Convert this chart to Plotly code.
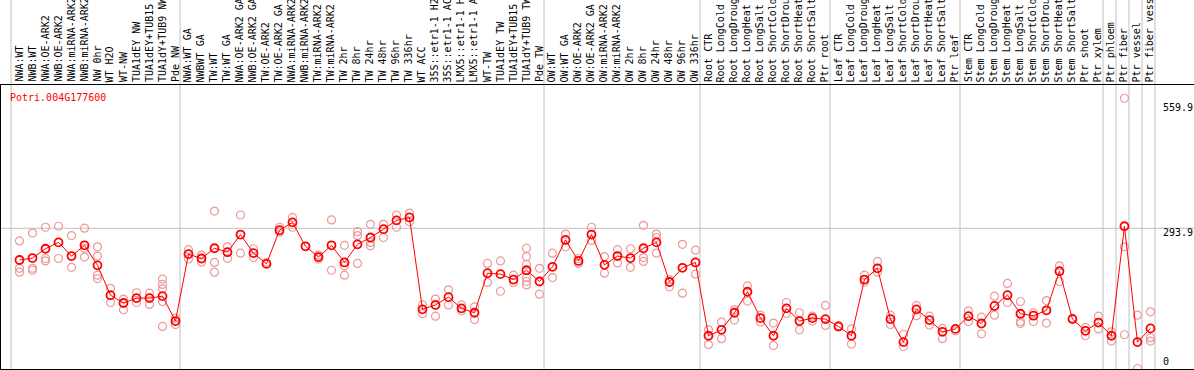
import plotly.graph_objects as go

gene = "Potri.004G177600"

categories = [
    "NWA:WT", "NWB:WT", "NWA:OE-ARK2", "NWB:OE-ARK2", "NWA:miRNA-ARK2", "NWB:miRNA-ARK2",
    "NW 0hr", "WT H2O", "WT-NW", "TUA1dEY NW", "TUA1dEY+TUB15 NW", "TUA1dY+TUB9 NW", "Pde NW",
    "NWA:WT GA", "NWBWT GA", "TW:WT", "TW:WT GA", "NWA:OE-ARK2 GA", "NWB:OE-ARK2 GA",
    "TW:OE-ARK2", "TW:OE-ARK2 GA", "NWA:miRNA-ARK2", "NWB:miRNA-ARK2", "TW:miRNA-ARK2",
    "TW:miRNA-ARK2", "TW 2hr", "TW 8hr", "TW 24hr", "TW 48hr", "TW 96hr", "TW 336hr",
    "WT ACC", "35S::etr1-1 H2O", "35S::etr1-1 ACC", "LMX5::etr1-1 H2O", "LMX5::etr1-1 ACC",
    "WT-TW", "TUA1dEY TW", "TUA1dEY+TUB15 TW", "TUA1dY+TUB9 TW", "Pde TW",
    "OW:WT", "OW:WT GA", "OW:OE-ARK2", "OW:OE-ARK2 GA", "OW:miRNA-ARK2", "OW:miRNA-ARK2",
    "OW 2hr", "OW 8hr", "OW 24hr", "OW 48hr", "OW 96hr", "OW 336hr",
    "Root CTR", "Root LongCold", "Root LongDrought", "Root LongHeat", "Root LongSalt",
    "Root ShortCold", "Root ShortDrought", "Root ShortHeat", "Root ShortSalt", "Ptr root",
    "Leaf CTR", "Leaf LongCold", "Leaf LongDrought", "Leaf LongHeat", "Leaf LongSalt",
    "Leaf ShortCold", "Leaf ShortDrought", "Leaf ShortHeat", "Leaf ShortSalt", "Ptr leaf",
    "Stem CTR", "Stem LongCold", "Stem LongDrought", "Stem LongHeat", "Stem LongSalt",
    "Stem ShortCold", "Stem ShortDrought", "Stem ShortHeat", "Stem ShortSalt", "Ptr shoot",
    "Ptr xylem", "Ptr phloem", "Ptr fiber", "Ptr vessel", "Ptr fiber vessel",
]

group_sizes = [13, 28, 12, 10, 10, 11, 1, 1, 1, 1]

means = [
    229, 233, 252, 265, 237, 259, 218, 157, 141, 151, 151, 155, 104,
    241, 232, 253, 245, 281, 243, 221, 290, 306, 257, 235, 259, 224, 261, 275, 292, 310, 316,
    128, 137, 153, 130, 121, 202, 200, 189, 208, 185,
    215, 270, 227, 281, 219, 237, 233, 253, 265, 184, 213, 224,
    74, 86, 121, 164, 110, 74, 130, 104, 110, 108,
    93, 74, 189, 212, 108, 61, 128, 106, 82, 88,
    114, 99, 135, 157, 119, 115, 126, 206, 108, 84, 101,
    74, 298, 61, 89,
]

replicates = [
    [268, 212, 204], [284, 212, 208], [296, 232, 227], [298, 232], [279, 214],
    [294, 253, 235], [256, 237, 198, 191], [171, 142], [149, 127], [162, 142],
    [161, 138], [190, 179, 170, 144, 93], [110, 97],
    [250, 231], [239, 225], [329, 224, 204], [256, 232], [321, 243], [252, 234],
    [224], [296, 286], [316, 296], [257], [239, 231], [311, 208], [259, 217, 198],
    [287, 279, 222], [302, 265, 258], [302, 275], [321, 296], [325, 307],
    [137, 119], [149, 114], [168, 137], [137, 125], [133, 107], [222, 183],
    [227, 165], [198, 183], [253, 236, 220, 193, 185, 178], [212, 159],
    [243, 193], [282, 256], [232, 222], [296, 269], [236, 202], [250, 223],
    [252, 214], [300, 234, 226], [282, 275, 243], [189, 174], [261, 161], [249, 200],
    [86, 56], [102, 68], [127, 106], [176, 145], [116, 102], [100, 54], [142, 120],
    [121, 86], [114, 104], [136, 95],
    [94, 92], [88, 57], [198, 184], [226, 204], [116, 97], [77, 52], [136, 115],
    [114, 96], [89, 68], [84],
    [125, 103], [112, 78], [155, 116], [181, 142], [144, 103, 99], [121, 103],
    [146, 100], [217, 185], [110], [91, 74], [114, 88],
    [82, 63], [559.9, 256, 76], [116, 7], [123, 70, 63],
]

axis_labels = ["559.9", "293.9", "0"]
ref_value = 293.9

W, H = 1194, 370
TOP, BOTTOM = 85, 369
PH = BOTTOM - TOP


def py(ypix):
    return (BOTTOM - ypix) / PH


def px(xpix):
    return (xpix - 1) / (W - 1)


idx = list(range(len(categories)))
rep_x, rep_y = [], []
for i, reps in enumerate(replicates):
    for v in reps:
        rep_x.append(i)
        rep_y.append(v)

fig = go.Figure()
fig.add_trace(go.Scatter(
    x=rep_x, y=rep_y, mode="markers",
    marker=dict(symbol="circle-open", size=8, color="#ec9a9a", line=dict(width=1.2, color="#ec9a9a")),
    hoverinfo="skip", showlegend=False,
))
fig.add_trace(go.Scatter(
    x=idx, y=means, mode="lines+markers",
    line=dict(color="#ff0000", width=1),
    marker=dict(symbol="circle-open", size=8, color="#ff0000", line=dict(width=1.8, color="#ee0000")),
    showlegend=False,
))

shapes = []
start = 0
bounds = [0]
for g in group_sizes:
    start += g
    bounds.append(start)
for b in bounds:
    shapes.append(dict(type="line", xref="x", yref="paper", x0=b - 0.65, x1=b - 0.65,
                       y0=py(H), y1=py(0), line=dict(color="#c0c0c0", width=1), layer="below"))
shapes.append(dict(type="line", xref="paper", yref="y", x0=0, x1=1, y0=ref_value, y1=ref_value,
                   line=dict(color="#c0c0c0", width=1), layer="below"))

annotations = []
mono = "DejaVu Sans Mono"
for i, name in enumerate(categories):
    annotations.append(dict(
        x=i, xref="x", y=py(84), yref="paper", text=name, textangle=-90,
        showarrow=False, xanchor="center", yanchor="bottom",
        font=dict(family=mono, size=10, color="black"),
    ))
annotations.append(dict(
    x=px(8), xref="paper", y=py(97.5), yref="paper", text=gene, showarrow=False,
    xanchor="left", yanchor="middle", font=dict(family=mono, size=10, color="#ff0000"),
))
for lab, ycen in zip(axis_labels, [107, 232.7, 361.7]):
    annotations.append(dict(
        x=px(1161), xref="paper", y=py(ycen), yref="paper", text=lab, showarrow=False,
        xanchor="left", yanchor="middle", font=dict(family=mono, size=10, color="black"),
    ))

fig.update_layout(
    width=W, height=H,
    margin=dict(l=1, r=0, t=TOP, b=H - BOTTOM, pad=0),
    paper_bgcolor="white", plot_bgcolor="white",
    shapes=shapes, annotations=annotations,
    xaxis=dict(range=[-1.423, 90.35], showgrid=False, zeroline=False, showticklabels=False,
               ticks="", showline=True, mirror=True, linecolor="black", linewidth=1, fixedrange=True),
    yaxis=dict(range=[5.93, 587.06], showgrid=False, zeroline=False, showticklabels=False,
               ticks="", showline=True, linecolor="black", linewidth=1, fixedrange=True),
    showlegend=False,
)

fig.write_html(
    "out.html",
    config={"displayModeBar": False},
    post_script="document.body.style.margin='0';document.body.style.padding='0';",
)
